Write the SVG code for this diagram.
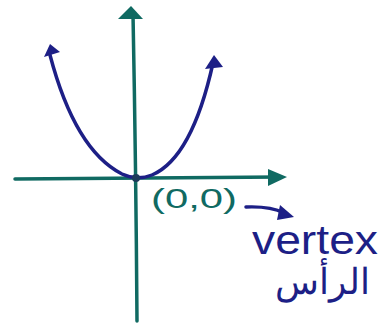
<svg xmlns="http://www.w3.org/2000/svg" width="383" height="326" viewBox="0 0 383 326">
<style>
.axis{stroke:#106a62;stroke-width:3.5;fill:none;stroke-linecap:round}
.curve{stroke:#1d1f86;stroke-width:3.5;fill:none;stroke-linecap:round}
.ah{fill:#106a62}
.bh{fill:#1d1f86}
.t1{font-family:"Liberation Sans",Arial,sans-serif;fill:#106a62}
.t2{font-family:"Liberation Sans","Noto Sans",sans-serif;fill:#1d1f86}
</style>
<rect width="383" height="326" fill="#ffffff"/>
<g id="axes">
<path class="axis" d="M15 179 L280 177"/>
<path class="axis" d="M133 14 Q136 170 137 321"/>
<path class="ah" d="M268 169 L287 177 L268 186 Z"/>
<path class="ah" d="M118 19 L131 6 L143 19 Z"/>
</g>
<g id="parabola">
<path class="curve" d="M50 55 Q75 150 122 174 Q137 181 152 175 Q192 158 213 63"/>
<path class="bh" d="M44 57 L50 44 L60 52 Z"/>
<path class="bh" d="M205 69 L214 55 L223 67 Z"/>
<circle cx="136" cy="178" r="4" fill="#1d3b5a"/>
</g>
<g id="labels">
<text class="t1" x="151" y="208" font-size="28" textLength="86" lengthAdjust="spacingAndGlyphs">(0,0)</text>
<path class="curve" d="M246 207 Q270 206 284 213"/>
<path class="bh" d="M280 205 L294 217 L277 220 Z"/>
<text class="t2" x="252" y="254" font-size="41" textLength="126" lengthAdjust="spacingAndGlyphs">vertex</text>
<text class="t2" x="322" y="294" font-size="36" text-anchor="middle" direction="rtl">الرأس</text>
</g>
</svg>
